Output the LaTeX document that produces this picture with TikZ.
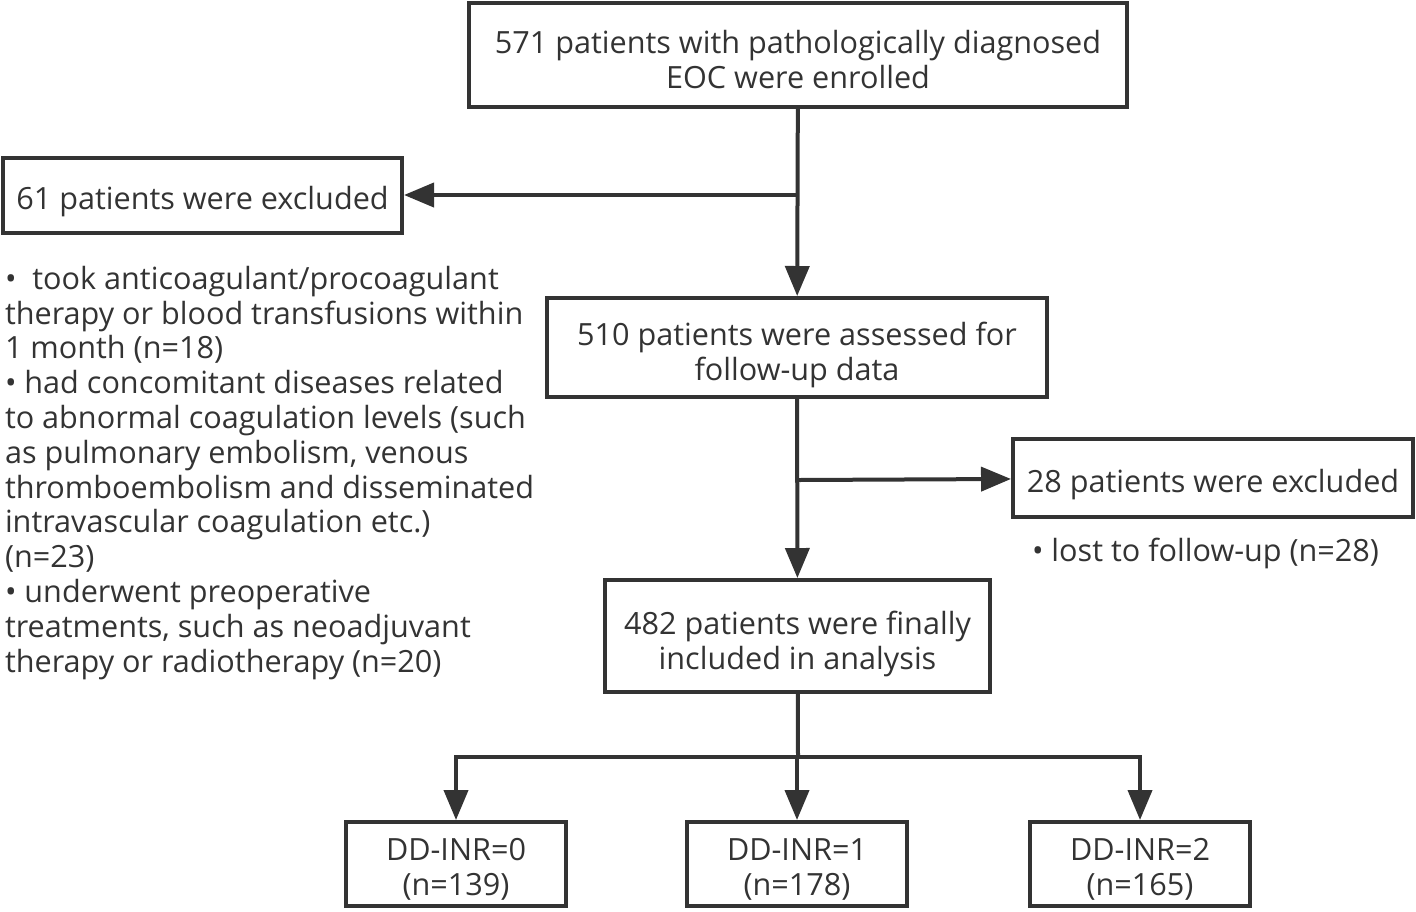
\documentclass[tikz,border=0pt]{standalone}
\usepackage{fontspec}
\setmainfont{Open Sans}
\usetikzlibrary{arrows.meta,positioning}
\definecolor{ink}{HTML}{333333}
\newcommand\lift[1]{\rule{0pt}{#1}}

\begin{document}
\begin{tikzpicture}
  [x=0.5pt,y=-0.5pt,color=ink,line width=2pt,font=\fontsize{15.3}{17.4}\selectfont,
   box/.style={draw,rectangle,align=center,inner sep=0pt},
   note/.style={align=left,inner sep=0pt,anchor=north west},
   arr/.style={-{Triangle[length=15pt,width=12pt]}}]
  \useasboundingbox (0,0) rectangle (1416,911);

  \node[box,minimum width=329pt,minimum height=52pt] (start) at (798,55)
    {\lift{16pt}571 patients with pathologically diagnosed\\EOC were enrolled};
  \node[box,minimum width=199.5pt,minimum height=37.5pt] (excl1) at (202.5,195)
    {\lift{18pt}61 patients were excluded};
  \node[box,minimum width=250pt,minimum height=49.5pt] (assess) at (797,347.5)
    {\lift{19.5pt}510 patients were assessed for\\follow-up data};
  \node[box,minimum width=200pt,minimum height=39pt] (excl2) at (1213,478)
    {\lift{18pt}28 patients were excluded};
  \node[box,minimum width=192.5pt,minimum height=56pt] (final) at (797.5,636)
    {\lift{19.5pt}482 patients were finally\\included in analysis};
  \node[box,minimum width=110pt,minimum height=42pt] (g0) at (456,864) {\lift{16.5pt}DD-INR=0\\(n=139)};
  \node[box,minimum width=110pt,minimum height=42pt] (g1) at (797,864) {\lift{16.5pt}DD-INR=1\\(n=178)};
  \node[box,minimum width=110pt,minimum height=42pt] (g2) at (1140,864) {\lift{16.5pt}DD-INR=2\\(n=165)};

  \node[note] (why1) at (3,264)
    {•\ \ took anticoagulant/procoagulant\\
     therapy or blood transfusions within\\
     1 month (n=18)\\
     • had concomitant diseases related\\
     to abnormal coagulation levels (such\\
     as pulmonary embolism, venous\\
     thromboembolism and disseminated\\
     intravascular coagulation etc.)\\
     (n=23)\\
     • underwent preoperative\\
     treatments, such as neoadjuvant\\
     therapy or radiotherapy (n=20)};
  \node[note] (why2) at (1030,536) {• lost to follow-up (n=28)};

  \coordinate (j1) at (798,195);
  \coordinate (j2) at (798,480);
  \coordinate (j3) at (798,757);

  \draw[arr] (start) -- (assess);
  \draw[arr] (j1) -- (excl1);
  \draw[arr] (assess) -- (final);
  \draw[arr] (j2) -- (excl2);
  \draw (final) -- (j3);
  \foreach \to in {g0,g1,g2}
    \draw[arr] (j3) -| (\to);
\end{tikzpicture}
\end{document}
